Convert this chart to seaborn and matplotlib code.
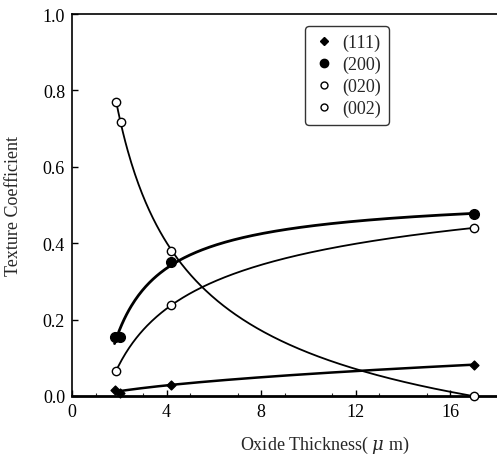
import numpy as np
import pandas as pd
import matplotlib
matplotlib.use("Agg")
import matplotlib.pyplot as plt
from matplotlib.lines import Line2D
import seaborn as sns

# Measured texture coefficients of the oxide planes vs. oxide thickness (um)
thickness_111 = [1.8, 2.05, 4.2, 17.0]
tc_111 = [0.015, 0.008, 0.030, 0.082]

thickness_200 = [1.8, 2.05, 4.2, 17.0]
tc_200 = [0.155, 0.155, 0.351, 0.476]

thickness_020 = [1.85, 2.08, 4.2, 17.0]
tc_020 = [0.770, 0.718, 0.380, 0.000]

thickness_002 = [1.86, 4.2, 17.0]
tc_002 = [0.065, 0.238, 0.440]

labels = ["(111)", "(200)", "(020)", "(002)"]
x_ticks = [0, 4, 8, 12, 16]
y_ticks = [0.0, 0.2, 0.4, 0.6, 0.8, 1.0]


def power_fit(x, y, n=300):
    """Least-squares fit y = a + b * x**p (log for p == 0), best p on a grid."""
    x = np.asarray(x, float)
    y = np.asarray(y, float)
    best = None
    for p in np.linspace(-2.5, 1.5, 401):
        t = np.log(x) if abs(p) < 1e-9 else x ** p
        coef = np.polyfit(t, y, 1)
        err = np.sum((np.polyval(coef, t) - y) ** 2)
        if best is None or err < best[0]:
            best = (err, p, coef)
    _, p, coef = best
    xs = np.linspace(x.min(), x.max(), n)
    ts = np.log(xs) if abs(p) < 1e-9 else xs ** p
    return xs, np.polyval(coef, ts)


sns.set_style("white")
plt.rcParams["font.family"] = ["Liberation Serif", "DejaVu Serif"]
plt.rcParams["mathtext.fontset"] = "dejavuserif"

fig = plt.figure(figsize=(4.97, 4.60), dpi=100)
ax = fig.add_axes([72 / 497, 63 / 460, 506 / 497, 382 / 460])

series = [
    (thickness_111, tc_111, "D", "black", 4.5, 1.8),
    (thickness_200, tc_200, "o", "black", 7.0, 2.0),
    (thickness_020, tc_020, "o", "white", 6.0, 1.3),
    (thickness_002, tc_002, "o", "white", 6.0, 1.3),
]

for (xv, yv, mk, fc, ms, lw), lab in zip(series, labels):
    xs, ys = power_fit(xv, yv)
    curve = pd.DataFrame({"x": xs, "y": ys})
    sns.lineplot(data=curve, x="x", y="y", ax=ax, color="black", lw=lw,
                 sort=False, legend=False)
    pts = pd.DataFrame({"x": xv, "y": yv})
    sns.scatterplot(data=pts, x="x", y="y", ax=ax, marker=mk, s=ms ** 2,
                    facecolor=fc, edgecolor="black", linewidth=1.0,
                    zorder=5, legend=False, clip_on=False)

ax.set_xlim(0, 21.4)
ax.set_ylim(0, 1.0)
ax.set_xticks(x_ticks)
ax.set_xticklabels([str(v) for v in x_ticks])
ax.set_xticks(np.arange(1, 19, 2), minor=True)
ax.set_yticks(y_ticks)
ax.set_yticklabels([f"{v:.1f}" for v in y_ticks])
ax.tick_params(axis="both", which="major", direction="in", length=4,
               width=1, labelsize=13, colors="black", pad=5)
ax.tick_params(axis="x", which="minor", direction="in", length=2.5,
               width=0.8, bottom=True)
ax.tick_params(axis="y", left=True)
ax.tick_params(axis="x", bottom=True)
for side in ["left", "bottom", "top", "right"]:
    ax.spines[side].set_color("black")
    ax.spines[side].set_linewidth(1.2)
ax.spines["bottom"].set_linewidth(2.0)

ax.set_xlabel(r"Oxide Thickness( $\mu$ m)", fontsize=13)
ax.set_ylabel("Texture Coefficient", fontsize=13)
ax.xaxis.set_label_coords(253 / 506, -0.1)
ax.yaxis.set_label_coords(-50 / 506, 0.5)

handles = [
    Line2D([], [], ls="none", marker="D", ms=4, mfc="black", mec="black"),
    Line2D([], [], ls="none", marker="o", ms=6, mfc="black", mec="black"),
    Line2D([], [], ls="none", marker="o", ms=5, mfc="white", mec="black"),
    Line2D([], [], ls="none", marker="o", ms=5, mfc="white", mec="black"),
]
leg = fig.legend(handles, labels, loc="upper left",
                 bbox_to_anchor=(305 / 497, 1 - 27 / 460),
                 frameon=True, fancybox=True, fontsize=13,
                 handletextpad=0.4, handlelength=1.2, labelspacing=0.25,
                 borderpad=0.45, borderaxespad=0.0)
leg.get_frame().set_edgecolor("black")
leg.get_frame().set_linewidth(1.0)

fig.savefig("out.png", dpi=100)
